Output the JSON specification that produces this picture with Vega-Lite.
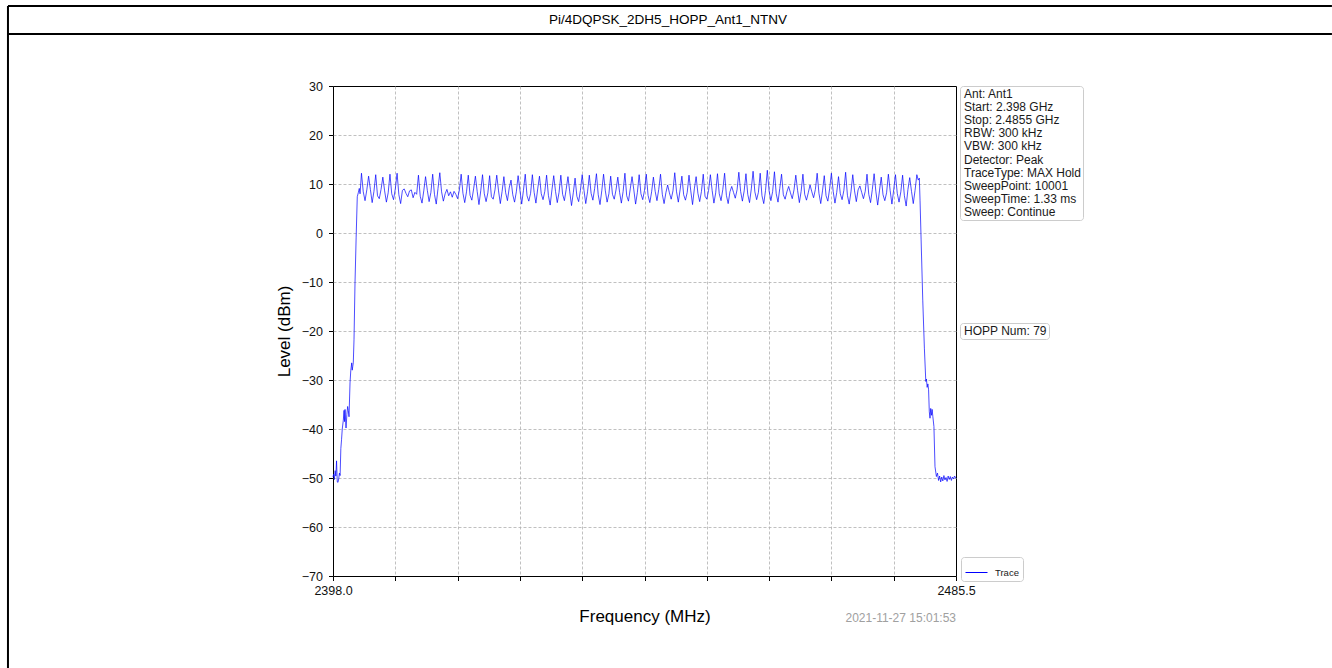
{
 "$schema": "https://vega.github.io/schema/vega-lite/v6.json",
 "width": 623,
 "height": 490,
 "autosize": {"type": "none"},
 "padding": {"left": 333, "top": 86, "right": 376, "bottom": 92},
 "background": "white",
 "title": {"text": "Pi/4DQPSK_2DH5_HOPP_Ant1_NTNV", "anchor": "middle", "frame": "group", "dx": 23.5, "offset": 0, "dy": 22, "fontSize": 13.5, "font": "Liberation Sans Narrow, Liberation Sans", "fontWeight": "normal", "color": "#000000"},
 "config": {
  "font": "Liberation Sans",
  "view": {"stroke": "#000000", "strokeWidth": 1},
  "axis": {"domain": false, "grid": true, "gridColor": "#b0b0b0", "gridDash": [3, 2], "gridWidth": 0.8, "tickColor": "#000000", "tickSize": 4.5, "tickWidth": 1, "labelFont": "Liberation Sans", "labelFontSize": 12.5, "labelColor": "#111111", "titleFont": "Liberation Sans", "titleFontSize": 17, "titleFontWeight": "normal", "titleColor": "#000000"},
  "legend": {"labelFont": "Liberation Sans", "labelColor": "#1a1a1a"}
 },
 "layer": [
  {
   "data": {"values": [{}]},
   "mark": {"type": "rule", "color": "#000000", "strokeWidth": 2},
   "encoding": {
    "x": {"datum": 2352.35, "type": "quantitative", "scale": {"domain": [2398, 2485.5], "nice": false, "zero": false}},
    "x2": {"datum": 2538.3},
    "y": {"datum": 46.33, "type": "quantitative", "scale": {"domain": [-70, 30], "nice": false, "zero": false}}
   }
  },
  {
   "data": {"values": [{}]},
   "mark": {"type": "rule", "color": "#000000", "strokeWidth": 2},
   "encoding": {
    "x": {"datum": 2352.35, "type": "quantitative", "scale": {"domain": [2398, 2485.5], "nice": false, "zero": false}},
    "x2": {"datum": 2538.3},
    "y": {"datum": 40.61, "type": "quantitative", "scale": {"domain": [-70, 30], "nice": false, "zero": false}}
   }
  },
  {
   "data": {"values": [{}]},
   "mark": {"type": "rule", "color": "#000000", "strokeWidth": 2},
   "encoding": {
    "x": {"datum": 2352.35, "type": "quantitative", "scale": {"domain": [2398, 2485.5], "nice": false, "zero": false}},
    "y": {"datum": 46.33, "type": "quantitative", "scale": {"domain": [-70, 30], "nice": false, "zero": false}},
    "y2": {"datum": -88.8}
   }
  },
  {
   "data": {"values": [
    {"f":2398.0,"v":-49.8},{"f":2398.1,"v":-49.2},{"f":2398.2,"v":-50.3},{"f":2398.3,"v":-48.5},{"f":2398.4,"v":-49.6},{"f":2398.5,"v":-46.5},{"f":2398.6,"v":-50.8},{"f":2398.7,"v":-50.9},{"f":2398.8,"v":-50.2},{"f":2398.9,"v":-49.0},{"f":2399.0,"v":-49.5},{"f":2399.1,"v":-44.0},{"f":2399.2,"v":-42.2},{"f":2399.3,"v":-40.0},{"f":2399.45,"v":-38.2},{"f":2399.55,"v":-36.2},{"f":2399.62,"v":-38.5},{"f":2399.69,"v":-36.0},{"f":2399.83,"v":-39.8},{"f":2399.95,"v":-37.0},{"f":2400.06,"v":-35.4},{"f":2400.15,"v":-36.2},{"f":2400.25,"v":-37.5},{"f":2400.39,"v":-30.6},{"f":2400.5,"v":-28.0},{"f":2400.63,"v":-26.5},{"f":2400.7,"v":-28.0},{"f":2400.77,"v":-27.3},{"f":2400.85,"v":-26.5},{"f":2400.95,"v":-21.8},{"f":2401.09,"v":-10.2},{"f":2401.25,"v":-1.0},{"f":2401.41,"v":7.4},{"f":2401.55,"v":8.2},{"f":2401.69,"v":9.1},{"f":2401.8,"v":8.0},
    {"f":2402,"v":12.2},{"f":2402.25,"v":8.4},{"f":2402.5,"v":6.6},{"f":2402.75,"v":8.8},
    {"f":2403,"v":11.6},{"f":2403.25,"v":8.9},{"f":2403.5,"v":6.2},{"f":2403.75,"v":8.5},
    {"f":2404,"v":11.9},{"f":2404.25,"v":7.6},{"f":2404.5,"v":7.0},{"f":2404.75,"v":8.9},
    {"f":2405,"v":11.4},{"f":2405.25,"v":8.6},{"f":2405.5,"v":6.3},{"f":2405.75,"v":8.2},
    {"f":2406,"v":12.0},{"f":2406.25,"v":8.0},{"f":2406.5,"v":6.8},{"f":2406.75,"v":9.0},
    {"f":2407,"v":12.2},{"f":2407.25,"v":7.8},{"f":2407.5,"v":6.0},{"f":2407.75,"v":8.7},
    {"f":2408,"v":9.0},{"f":2408.25,"v":8.1},{"f":2408.5,"v":7.4},{"f":2408.75,"v":8.6},
    {"f":2409,"v":8.8},{"f":2409.25,"v":7.2},{"f":2409.5,"v":8.3},{"f":2409.75,"v":7.9},
    {"f":2410,"v":11.8},{"f":2410.25,"v":7.5},{"f":2410.5,"v":6.1},{"f":2410.75,"v":8.6},
    {"f":2411,"v":11.5},{"f":2411.25,"v":8.7},{"f":2411.5,"v":6.4},{"f":2411.75,"v":8.3},
    {"f":2412,"v":12.0},{"f":2412.25,"v":7.9},{"f":2412.5,"v":5.9},{"f":2412.75,"v":9.1},
    {"f":2413,"v":12.3},{"f":2413.25,"v":8.4},{"f":2413.5,"v":6.5},{"f":2413.75,"v":8.0},
    {"f":2414,"v":8.9},{"f":2414.25,"v":7.6},{"f":2414.5,"v":8.4},{"f":2414.75,"v":7.3},
    {"f":2415,"v":8.5},{"f":2415.25,"v":7.9},{"f":2415.5,"v":7.0},{"f":2415.75,"v":8.8},
    {"f":2416,"v":12.0},{"f":2416.25,"v":8.1},{"f":2416.5,"v":6.2},{"f":2416.75,"v":8.4},
    {"f":2417,"v":11.8},{"f":2417.25,"v":7.7},{"f":2417.5,"v":6.7},{"f":2417.75,"v":9.0},
    {"f":2418,"v":11.6},{"f":2418.25,"v":8.5},{"f":2418.5,"v":5.8},{"f":2418.75,"v":8.6},
    {"f":2419,"v":11.9},{"f":2419.25,"v":8.0},{"f":2419.5,"v":6.4},{"f":2419.75,"v":8.2},
    {"f":2420,"v":11.7},{"f":2420.25,"v":7.4},{"f":2420.5,"v":6.9},{"f":2420.75,"v":8.8},
    {"f":2421,"v":11.8},{"f":2421.25,"v":8.6},{"f":2421.5,"v":6.0},{"f":2421.75,"v":8.5},
    {"f":2422,"v":11.5},{"f":2422.25,"v":8.2},{"f":2422.5,"v":6.6},{"f":2422.75,"v":9.2},
    {"f":2423,"v":10.8},{"f":2423.25,"v":7.8},{"f":2423.5,"v":6.3},{"f":2423.75,"v":8.4},
    {"f":2424,"v":11.7},{"f":2424.25,"v":8.8},{"f":2424.5,"v":5.9},{"f":2424.75,"v":8.7},
    {"f":2425,"v":12.0},{"f":2425.25,"v":7.6},{"f":2425.5,"v":6.5},{"f":2425.75,"v":8.1},
    {"f":2426,"v":11.9},{"f":2426.25,"v":8.3},{"f":2426.5,"v":6.1},{"f":2426.75,"v":9.0},
    {"f":2427,"v":11.6},{"f":2427.25,"v":8.0},{"f":2427.5,"v":6.8},{"f":2427.75,"v":8.5},
    {"f":2428,"v":11.8},{"f":2428.25,"v":7.7},{"f":2428.5,"v":5.7},{"f":2428.75,"v":8.8},
    {"f":2429,"v":11.7},{"f":2429.25,"v":8.5},{"f":2429.5,"v":6.2},{"f":2429.75,"v":8.3},
    {"f":2430,"v":11.8},{"f":2430.25,"v":7.9},{"f":2430.5,"v":6.6},{"f":2430.75,"v":8.9},
    {"f":2431,"v":11.5},{"f":2431.25,"v":8.4},{"f":2431.5,"v":5.6},{"f":2431.75,"v":8.2},
    {"f":2432,"v":11.2},{"f":2432.25,"v":7.5},{"f":2432.5,"v":6.4},{"f":2432.75,"v":8.7},
    {"f":2433,"v":11.9},{"f":2433.25,"v":8.7},{"f":2433.5,"v":6.0},{"f":2433.75,"v":8.4},
    {"f":2434,"v":11.8},{"f":2434.25,"v":8.1},{"f":2434.5,"v":6.7},{"f":2434.75,"v":9.1},
    {"f":2435,"v":12.1},{"f":2435.25,"v":7.8},{"f":2435.5,"v":5.8},{"f":2435.75,"v":8.6},
    {"f":2436,"v":12.0},{"f":2436.25,"v":8.6},{"f":2436.5,"v":6.3},{"f":2436.75,"v":8.0},
    {"f":2437,"v":11.6},{"f":2437.25,"v":7.9},{"f":2437.5,"v":6.9},{"f":2437.75,"v":8.8},
    {"f":2438,"v":11.4},{"f":2438.25,"v":8.3},{"f":2438.5,"v":6.1},{"f":2438.75,"v":8.5},
    {"f":2439,"v":12.2},{"f":2439.25,"v":7.6},{"f":2439.5,"v":6.5},{"f":2439.75,"v":9.0},
    {"f":2440,"v":11.5},{"f":2440.25,"v":8.8},{"f":2440.5,"v":5.9},{"f":2440.75,"v":8.3},
    {"f":2441,"v":11.9},{"f":2441.25,"v":8.0},{"f":2441.5,"v":6.8},{"f":2441.75,"v":8.7},
    {"f":2442,"v":12.0},{"f":2442.25,"v":7.7},{"f":2442.5,"v":6.2},{"f":2442.75,"v":8.4},
    {"f":2443,"v":11.4},{"f":2443.25,"v":8.5},{"f":2443.5,"v":6.6},{"f":2443.75,"v":8.9},
    {"f":2444,"v":12.0},{"f":2444.25,"v":7.9},{"f":2444.5,"v":6.0},{"f":2444.75,"v":8.2},
    {"f":2445,"v":9.8},{"f":2445.25,"v":8.2},{"f":2445.5,"v":6.9},{"f":2445.75,"v":8.6},
    {"f":2446,"v":12.3},{"f":2446.25,"v":8.4},{"f":2446.5,"v":6.3},{"f":2446.75,"v":8.8},
    {"f":2447,"v":11.6},{"f":2447.25,"v":7.8},{"f":2447.5,"v":6.7},{"f":2447.75,"v":8.3},
    {"f":2448,"v":11.8},{"f":2448.25,"v":8.6},{"f":2448.5,"v":5.8},{"f":2448.75,"v":9.0},
    {"f":2449,"v":11.5},{"f":2449.25,"v":8.1},{"f":2449.5,"v":6.4},{"f":2449.75,"v":8.5},
    {"f":2450,"v":12.0},{"f":2450.25,"v":7.5},{"f":2450.5,"v":6.9},{"f":2450.75,"v":8.7},
    {"f":2451,"v":11.9},{"f":2451.25,"v":8.7},{"f":2451.5,"v":6.1},{"f":2451.75,"v":8.2},
    {"f":2452,"v":12.1},{"f":2452.25,"v":8.0},{"f":2452.5,"v":6.6},{"f":2452.75,"v":8.9},
    {"f":2453,"v":12.2},{"f":2453.25,"v":7.7},{"f":2453.5,"v":6.0},{"f":2453.75,"v":8.4},
    {"f":2454,"v":9.5},{"f":2454.25,"v":8.3},{"f":2454.5,"v":7.1},{"f":2454.75,"v":8.8},
    {"f":2455,"v":12.4},{"f":2455.25,"v":8.5},{"f":2455.5,"v":6.5},{"f":2455.75,"v":8.6},
    {"f":2456,"v":12.1},{"f":2456.25,"v":7.9},{"f":2456.5,"v":6.2},{"f":2456.75,"v":9.0},
    {"f":2457,"v":12.6},{"f":2457.25,"v":8.4},{"f":2457.5,"v":6.8},{"f":2457.75,"v":8.3},
    {"f":2458,"v":12.2},{"f":2458.25,"v":7.6},{"f":2458.5,"v":6.0},{"f":2458.75,"v":8.7},
    {"f":2459,"v":12.8},{"f":2459.25,"v":8.6},{"f":2459.5,"v":6.6},{"f":2459.75,"v":8.5},
    {"f":2460,"v":12.5},{"f":2460.25,"v":8.0},{"f":2460.5,"v":6.3},{"f":2460.75,"v":9.1},
    {"f":2461,"v":12.0},{"f":2461.25,"v":7.8},{"f":2461.5,"v":6.9},{"f":2461.75,"v":8.4},
    {"f":2462,"v":9.5},{"f":2462.25,"v":8.2},{"f":2462.5,"v":7.0},{"f":2462.75,"v":8.8},
    {"f":2463,"v":11.8},{"f":2463.25,"v":8.7},{"f":2463.5,"v":6.2},{"f":2463.75,"v":8.5},
    {"f":2464,"v":12.0},{"f":2464.25,"v":7.9},{"f":2464.5,"v":6.7},{"f":2464.75,"v":8.2},
    {"f":2465,"v":9.8},{"f":2465.25,"v":8.4},{"f":2465.5,"v":7.2},{"f":2465.75,"v":8.9},
    {"f":2466,"v":12.2},{"f":2466.25,"v":8.1},{"f":2466.5,"v":6.0},{"f":2466.75,"v":8.6},
    {"f":2467,"v":11.7},{"f":2467.25,"v":7.6},{"f":2467.5,"v":6.5},{"f":2467.75,"v":9.0},
    {"f":2468,"v":12.2},{"f":2468.25,"v":8.5},{"f":2468.5,"v":6.1},{"f":2468.75,"v":8.3},
    {"f":2469,"v":11.5},{"f":2469.25,"v":8.0},{"f":2469.5,"v":6.8},{"f":2469.75,"v":8.7},
    {"f":2470,"v":12.4},{"f":2470.25,"v":7.7},{"f":2470.5,"v":5.9},{"f":2470.75,"v":8.4},
    {"f":2471,"v":11.9},{"f":2471.25,"v":8.6},{"f":2471.5,"v":6.4},{"f":2471.75,"v":8.8},
    {"f":2472,"v":9.6},{"f":2472.25,"v":8.3},{"f":2472.5,"v":7.0},{"f":2472.75,"v":8.5},
    {"f":2473,"v":12.0},{"f":2473.25,"v":7.9},{"f":2473.5,"v":6.2},{"f":2473.75,"v":8.9},
    {"f":2474,"v":12.1},{"f":2474.25,"v":8.4},{"f":2474.5,"v":5.7},{"f":2474.75,"v":8.6},
    {"f":2475,"v":11.4},{"f":2475.25,"v":7.8},{"f":2475.5,"v":6.6},{"f":2475.75,"v":8.2},
    {"f":2476,"v":12.0},{"f":2476.25,"v":8.7},{"f":2476.5,"v":5.9},{"f":2476.75,"v":8.8},
    {"f":2477,"v":11.9},{"f":2477.25,"v":8.1},{"f":2477.5,"v":6.3},{"f":2477.75,"v":8.4},
    {"f":2478,"v":11.8},{"f":2478.25,"v":7.6},{"f":2478.5,"v":5.5},{"f":2478.75,"v":8.9},
    {"f":2479,"v":11.3},{"f":2479.25,"v":8.5},{"f":2479.5,"v":6.0},{"f":2479.75,"v":8.7},
    {"f":2480,"v":11.9},{"f":2480.2,"v":10.8},{"f":2480.35,"v":11.2},{"f":2480.45,"v":6.7},{"f":2480.6,"v":-1.4},{"f":2480.83,"v":-13.7},{"f":2481.06,"v":-23.5},{"f":2481.26,"v":-30.3},{"f":2481.35,"v":-29.8},{"f":2481.45,"v":-31.5},{"f":2481.55,"v":-30.8},{"f":2481.65,"v":-32.0},{"f":2481.75,"v":-36.5},{"f":2481.85,"v":-37.8},{"f":2481.95,"v":-35.8},{"f":2482.05,"v":-37.2},{"f":2482.15,"v":-36.0},{"f":2482.25,"v":-37.5},{"f":2482.4,"v":-39.5},{"f":2482.55,"v":-47.7},{"f":2482.75,"v":-49.7},{"f":2482.9,"v":-49.0},{"f":2483.05,"v":-50.5},{"f":2483.2,"v":-49.6},{"f":2483.35,"v":-50.8},{"f":2483.5,"v":-49.8},{"f":2483.65,"v":-50.6},{"f":2483.8,"v":-49.5},{"f":2483.95,"v":-50.4},{"f":2484.1,"v":-49.9},{"f":2484.25,"v":-50.7},{"f":2484.4,"v":-49.6},{"f":2484.55,"v":-50.3},{"f":2484.7,"v":-49.7},{"f":2484.85,"v":-50.5},{"f":2485.0,"v":-49.8},{"f":2485.15,"v":-50.2},{"f":2485.3,"v":-49.6},{"f":2485.5,"v":-50.1}
   ]},
   "mark": {"type": "line", "strokeWidth": 0.7, "interpolate": "linear"},
   "encoding": {
    "x": {"field": "f", "type": "quantitative", "scale": {"domain": [2398, 2485.5], "nice": false, "zero": false},
     "axis": {"title": "Frequency (MHz)", "values": [2398, 2406.75, 2415.5, 2424.25, 2433, 2441.75, 2450.5, 2459.25, 2468, 2476.75, 2485.5], "labelExpr": "datum.value == 2398 || datum.value == 2485.5 ? format(datum.value, '.1f') : ''", "labelPadding": 4, "titlePadding": 11, "labelFlush": false, "labelOverlap": false,
      "gridOpacity": {"condition": {"test": "datum.value == 2398 || datum.value == 2485.5", "value": 0}, "value": 1}}},
    "y": {"field": "v", "type": "quantitative", "scale": {"domain": [-70, 30], "nice": false, "zero": false},
     "axis": {"title": "Level (dBm)", "values": [-70, -60, -50, -40, -30, -20, -10, 0, 10, 20, 30], "labelPadding": 6, "titlePadding": 8,
      "gridOpacity": {"condition": {"test": "datum.value == 30 || datum.value == -70", "value": 0}, "value": 1}}},
    "color": {"datum": "Trace", "type": "nominal", "scale": {"range": ["#0000ff"]},
     "legend": {"orient": "none", "legendX": 628, "legendY": 471, "title": null, "symbolType": "stroke", "symbolSize": 484, "symbolStrokeWidth": 1, "labelFontSize": 9.5, "labelOffset": 7, "padding": 4, "strokeColor": "#cccccc", "fillColor": "white", "cornerRadius": 3}}
   }
  },
  {
   "data": {"values": [
    {"t": "Ant: Ant1"}, {"t": "Start: 2.398 GHz"}, {"t": "Stop: 2.4855 GHz"}, {"t": "RBW: 300 kHz"}, {"t": "VBW: 300 kHz"}, {"t": "Detector: Peak"}, {"t": "TraceType: MAX Hold"}, {"t": "SweepPoint: 10001"}, {"t": "SweepTime: 1.33 ms"}, {"t": "Sweep: Continue"}
   ]},
   "mark": {"type": "point", "opacity": 0},
   "encoding": {
    "shape": {"field": "t", "type": "nominal",
     "scale": {"domain": ["Ant: Ant1", "Start: 2.398 GHz", "Stop: 2.4855 GHz", "RBW: 300 kHz", "VBW: 300 kHz", "Detector: Peak", "TraceType: MAX Hold", "SweepPoint: 10001", "SweepTime: 1.33 ms", "Sweep: Continue"]},
     "legend": {"orient": "none", "legendX": 627, "legendY": 0, "title": null, "symbolSize": 0, "symbolStrokeWidth": 0, "symbolOpacity": 0, "labelOffset": -10, "labelFontSize": 12, "rowPadding": 1.1, "padding": 2, "strokeColor": "#cccccc", "fillColor": "white", "cornerRadius": 3, "labelLimit": 300}}
   }
  },
  {
   "data": {"values": [{"h": "HOPP Num: 79"}]},
   "mark": {"type": "point", "opacity": 0},
   "encoding": {
    "shape": {"field": "h", "type": "nominal",
     "legend": {"orient": "none", "legendX": 627, "legendY": 237, "title": null, "symbolSize": 0, "symbolStrokeWidth": 0, "symbolOpacity": 0, "labelOffset": -10, "labelFontSize": 12, "padding": 2, "strokeColor": "#cccccc", "fillColor": "white", "cornerRadius": 3, "labelLimit": 300}}
   }
  },
  {
   "data": {"values": [{"ts": "2021-11-27 15:01:53"}]},
   "mark": {"type": "text", "align": "right", "baseline": "middle", "fontSize": 12, "color": "#a0a0a0", "font": "Liberation Sans"},
   "encoding": {
    "text": {"field": "ts"},
    "x": {"datum": 2485.5, "type": "quantitative", "scale": {"domain": [2398, 2485.5], "nice": false, "zero": false}},
    "y": {"datum": -78.57, "type": "quantitative", "scale": {"domain": [-70, 30], "nice": false, "zero": false}}
   }
  }
 ],
 "resolve": {"scale": {"shape": "independent"}, "legend": {"shape": "independent"}}
}
